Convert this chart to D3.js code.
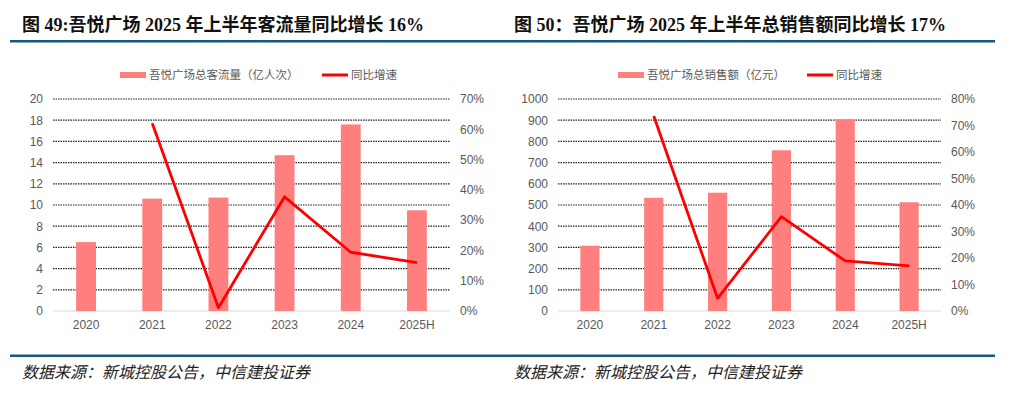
<!DOCTYPE html>
<html>
<head>
<meta charset="utf-8">
<title>吾悦广场</title>
<script src="https://cdn.jsdelivr.net/npm/d3@7"></script>
<style>
  body { margin: 0; background: #fff; }
  svg { display: block; }
  .tick text { font-family: "Liberation Sans", Arial, sans-serif; font-size: 12px; fill: #595959; }
</style>
</head>
<body>
<script>
// categories shared by both charts
var years = ["2020", "2021", "2022", "2023", "2024", "2025H"];

// chart 49: visitor flow (100m person-times) and yoy growth
var flowValues = [6.5, 10.6, 10.7, 14.7, 17.6, 9.5];
var flowGrowth = [null, 62, 1.1, 37.7, 19.4, 16];
var flowTicksLeft = [0, 2, 4, 6, 8, 10, 12, 14, 16, 18, 20];
var flowTicksRight = [0, 10, 20, 30, 40, 50, 60, 70];

// chart 50: total sales (100m yuan) and yoy growth
var salesValues = [308, 534, 558, 758, 904, 513];
var salesGrowth = [null, 73.6, 4.8, 35.6, 18.9, 17];
var salesTicksLeft = [0, 100, 200, 300, 400, 500, 600, 700, 800, 900, 1000];
var salesTicksRight = [0, 10, 20, 30, 40, 50, 60, 70, 80];

const W = 1015, H = 397;
const svg = d3.select("body").append("svg").attr("width", W).attr("height", H);

const navy = "#1b577d";
const barColor = "#ff7f7f";
const lineColor = "#ff0000";

function drawChart(o) {
  const g = svg.append("g");
  // title
  g.append("text")
    .attr("x", o.titleX).attr("y", 31)
    .attr("font-family", "'Liberation Serif', 'Noto Sans CJK SC', serif")
    .attr("font-weight", "bold").attr("font-size", 18).attr("fill", "#111")
    .text(o.title);
  g.append("rect").attr("x", o.lineX0).attr("y", 40).attr("width", o.lineX1 - o.lineX0).attr("height", 2.5).attr("fill", navy);
  g.append("rect").attr("x", o.lineX0).attr("y", 354.5).attr("width", o.lineX1 - o.lineX0).attr("height", 2.5).attr("fill", navy);
  g.append("text")
    .attr("x", o.titleX).attr("y", 378)
    .attr("font-family", "'Noto Sans CJK SC', sans-serif")
    .attr("font-style", "italic").attr("font-size", 16).attr("fill", "#222")
    .text("数据来源：新城控股公告，中信建投证券");

  const x = d3.scaleBand().domain(years).range([o.x0, o.x1]).paddingInner(0.7).paddingOuter(0.35);
  const y = d3.scaleLinear().domain([0, o.ticksLeft[o.ticksLeft.length - 1]]).range([311, 99]);
  const y2 = d3.scaleLinear().domain([0, o.ticksRight[o.ticksRight.length - 1]]).range([311, 99]);

  // gridlines
  g.selectAll(".grid").data(o.ticksLeft.slice(1)).enter().append("line")
    .attr("x1", o.x0).attr("x2", o.x1)
    .attr("y1", d => y(d)).attr("y2", d => y(d))
    .attr("stroke", "#222").attr("stroke-width", 1.2).attr("stroke-dasharray", "1.5,1");
  g.append("line").attr("x1", o.x0).attr("x2", o.x1).attr("y1", 311).attr("y2", 311)
    .attr("stroke", "#d9d9d9").attr("stroke-width", 1);

  // bars
  g.selectAll(".bar").data(o.values).enter().append("rect")
    .attr("x", (d, i) => x(years[i]))
    .attr("width", x.bandwidth())
    .attr("y", d => y(d))
    .attr("height", d => y(0) - y(d))
    .attr("fill", barColor);

  // growth line
  const line = d3.line()
    .defined(d => d != null)
    .x((d, i) => x(years[i]) + x.bandwidth() / 2)
    .y(d => y2(d));
  g.append("path").datum(o.growth).attr("d", line)
    .attr("fill", "none").attr("stroke", lineColor).attr("stroke-width", 2.8).attr("stroke-linejoin", "round");

  // axes
  const axL = g.append("g").attr("transform", "translate(" + (o.x0 - 4) + ",0)")
    .call(d3.axisLeft(y).tickValues(o.ticksLeft).tickSize(0).tickPadding(6).tickFormat(d3.format("d")));
  axL.select(".domain").remove();
  const axR = g.append("g").attr("transform", "translate(" + (o.x1 + 4) + ",0)")
    .call(d3.axisRight(y2).tickValues(o.ticksRight).tickSize(0).tickPadding(6).tickFormat(d => d + "%"));
  axR.select(".domain").remove();
  const axB = g.append("g").attr("transform", "translate(0,311)")
    .call(d3.axisBottom(x).tickSize(0).tickPadding(9));
  axB.select(".domain").remove();

  // legend
  const lg = g.append("g").attr("font-family", "'Noto Sans CJK SC', sans-serif").attr("font-size", 11.5).attr("fill", "#595959");
  lg.append("rect").attr("x", o.legX).attr("y", 72).attr("width", 26).attr("height", 6).attr("fill", barColor);
  lg.append("text").attr("x", o.legX + 29).attr("y", 79).text(o.barName);
  lg.append("line").attr("x1", o.legX2).attr("x2", o.legX2 + 26).attr("y1", 75).attr("y2", 75)
    .attr("stroke", lineColor).attr("stroke-width", 3);
  lg.append("text").attr("x", o.legX2 + 29).attr("y", 79).text("同比增速");
}

drawChart({
  title: "图 49:吾悦广场 2025 年上半年客流量同比增长 16%",
  titleX: 22, lineX0: 10, lineX1: 500,
  x0: 53, x1: 450,
  values: flowValues, growth: flowGrowth,
  ticksLeft: flowTicksLeft, ticksRight: flowTicksRight,
  barName: "吾悦广场总客流量（亿人次）",
  legX: 120, legX2: 322
});

drawChart({
  title: "图 50：吾悦广场 2025 年上半年总销售额同比增长 17%",
  titleX: 514, lineX0: 500, lineX1: 995,
  x0: 558, x1: 941,
  values: salesValues, growth: salesGrowth,
  ticksLeft: salesTicksLeft, ticksRight: salesTicksRight,
  barName: "吾悦广场总销售额（亿元）",
  legX: 618, legX2: 807
});
</script>
</body>
</html>
